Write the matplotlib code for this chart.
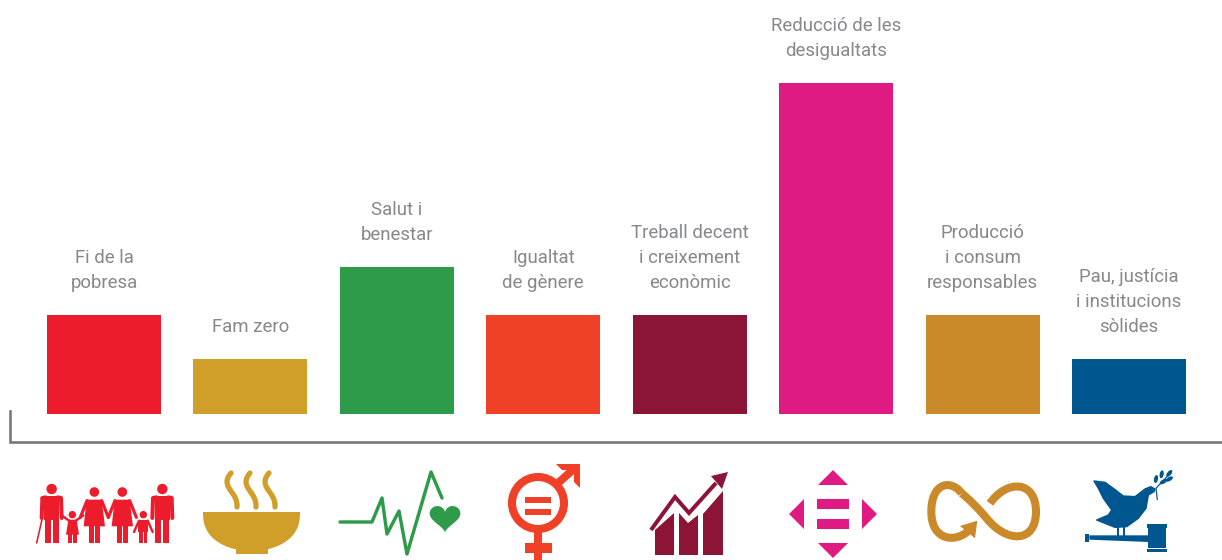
import matplotlib
matplotlib.use("Agg")
import matplotlib.pyplot as plt
import numpy as np
from matplotlib.patches import Circle, Ellipse, PathPatch, Polygon, Rectangle
from matplotlib.path import Path

labels = ["Fi de la\npobresa", "Fam zero", "Salut i\nbenestar", "Igualtat\nde gènere",
          "Treball decent\ni creixement\neconòmic", "Reducció de les\ndesigualtats",
          "Producció\ni consum\nresponsables", "Pau, justícia\ni institucions\nsòlides"]
values = [2.1, 1.17, 3.13, 2.1, 2.1, 7.04, 2.1, 1.17]
colors = ["#ec1c2d", "#cf9f2a", "#2e9b4a", "#f04128", "#8c1537", "#e01a83", "#cb8a2a", "#00568f"]

plt.rcParams["font.family"] = ["Roboto", "DejaVu Sans"]

fig = plt.figure(figsize=(12.22, 5.6), dpi=100)
ax = fig.add_axes([0, 0, 1, 1])
ax.set_xlim(-0.710, 7.635)
ax.set_ylim(-3.106, 8.809)
ax.axis("off")

x = np.arange(len(values))
ax.bar(x, values, width=0.7785, color=colors)
for i, lab in enumerate(labels):
    ax.annotate(lab, (x[i], values[i]), xytext=(0, 16.5), textcoords="offset points",
                ha="center", va="bottom", fontsize=13.4, fontweight="normal",
                color="#87888b", linespacing=1.5)

# overlay in pixels for the axis bracket and the icons
ov = fig.add_axes([0, 0, 1, 1])
ov.set_xlim(0, 1222)
ov.set_ylim(560, 0)
ov.axis("off")
ov.patch.set_alpha(0)

ov.plot([9.5, 9.5, 1222], [411, 442, 442], color="#77787b", lw=1.9, solid_joinstyle="miter")


def line(pts, col, w, cap="butt", join="miter"):
    pts = np.array(pts)
    ov.plot(pts[:, 0], pts[:, 1], color=col, lw=w * 0.72, solid_capstyle=cap, solid_joinstyle=join)


def poly(pts, col, edge=0):
    ov.add_patch(Polygon(pts, fc=col, ec=col, lw=edge, joinstyle="round"))


def box(x0, y0, x1, y1, col):
    ov.add_patch(Rectangle((x0, y0), x1 - x0, y1 - y0, color=col, lw=0))


def f(px, py):
    return (30 + px / 3, 478 + py / 3)


c = colors[0]
for hx in (65, 397):
    ov.add_patch(Circle(f(hx, 33), 5.2, color=c, lw=0))
    poly([f(hx - 22, 55), f(hx + 22, 55), f(hx + 22, 125), f(hx - 22, 125)], c)
    box(*f(hx - 21, 120), *f(hx - 3, 195), c)
    box(*f(hx + 3, 120), *f(hx + 21, 195), c)
    line([f(hx - 28, 62), f(hx - 30, 120)], c, 4, "round", "round")
    line([f(hx + 28, 62), f(hx + 30, 120)], c, 4, "round", "round")
    line([f(hx - 28, 60), f(hx - 18, 58)], c, 4, "round")
    line([f(hx + 28, 60), f(hx + 18, 58)], c, 4, "round")
for hx in (193, 277):
    ov.add_patch(Circle(f(hx, 42), 4.8, color=c, lw=0))
    poly([f(hx - 23, 65), f(hx + 22, 65), f(hx + 32, 145), f(hx - 32, 145)], c)
    box(*f(hx - 15, 140), *f(hx - 1, 195), c)
    box(*f(hx + 2, 140), *f(hx + 17, 195), c)
    line([f(hx - 22, 68), f(hx - 42, 118)], c, 3.2, "round")
    line([f(hx + 22, 68), f(hx + 42, 118)], c, 3.2, "round")
ov.add_patch(Circle(f(127, 110), 3.7, color=c, lw=0))
poly([f(115, 125), f(140, 125), f(147, 170), f(108, 170)], c)
box(*f(115, 165), *f(125, 195), c)
box(*f(130, 165), *f(140, 195), c)
line([f(117, 128), f(95, 112)], c, 2.4, "round")
line([f(138, 128), f(160, 112)], c, 2.4, "round")
ov.add_patch(Circle(f(340, 110), 3.7, color=c, lw=0))
box(*f(325, 125), *f(355, 162), c)
box(*f(328, 160), *f(338, 195), c)
box(*f(342, 160), *f(352, 195), c)
line([f(327, 128), f(312, 162)], c, 2.4, "round")
line([f(353, 128), f(368, 162)], c, 2.4, "round")
line([f(20, 195), f(37, 120)], c, 1.6, "round")

# 2 bowl
c = colors[1]
th = np.linspace(0, np.pi, 60)
poly(np.c_[251.5 + 48.5 * np.cos(th), 512 + 39 * np.sin(th) ** 0.8], c)
box(236, 545, 268, 553.5, c)
for sx in (232, 251, 270):
    verts = [(sx - 1, 473), (sx - 9, 482), (sx - 3, 488), (sx + 1, 494), (sx + 5, 500), (sx + 5, 503), (sx + 5, 507)]
    ov.add_patch(PathPatch(Path(verts, [Path.MOVETO] + [Path.CURVE4] * 6), fc="none", ec=c, lw=3.8, capstyle="round"))

# 3 pulse and heart
c = colors[2]
line([(340, 522), (372, 522), (382, 498), (387, 534), (399, 511), (407, 554), (431, 472), (442, 498)],
     c, 3.4, "round", "round")
t = np.linspace(0, 2 * np.pi, 100)
hx = 16 * np.sin(t) ** 3
hy = 13 * np.cos(t) - 5 * np.cos(2 * t) - 2 * np.cos(3 * t) - np.cos(4 * t)
poly(np.c_[445 + hx * 0.96, 517 - hy * 0.92], c)

# 4 gender
c = colors[3]
ov.add_patch(Circle((538, 503), 26, fc="none", ec=c, lw=5.8))
box(525, 497, 551, 503, c)
box(525, 509, 551, 515, c)
box(534, 531, 542, 560, c)
box(525, 543, 552, 552.5, c)
poly([(556, 464), (580, 464), (580, 488), (574, 482), (574, 470), (562, 470)], c)
line([(557, 484), (576, 467)], c, 8)

# 5 growth
c = colors[4]
poly([(655, 555), (655, 530), (674, 513), (674, 555)], c)
poly([(679, 555), (679, 513), (688, 523), (698, 515), (698, 555)], c)
poly([(703, 555), (703, 514), (723, 491), (723, 555)], c)
line([(651, 530), (675, 497), (689, 513), (716, 483)], c, 4)
poly([(728, 472), (711, 476), (722, 489)], c)

# 6 reduce inequality
c = colors[5]
poly([(833, 470), (818, 485), (848, 485)], c)
poly([(833, 558), (818, 543), (848, 543)], c)
poly([(862, 499), (862, 529), (877, 514)], c)
poly([(804, 499), (804, 529), (789, 514)], c)
box(817, 499, 849, 509, c)
box(817, 519, 849, 529, c)


# 7 infinity
def z(px, py):
    return (820 + px / 3, 440 + py / 3)


c = colors[6]
left = [z(425, 160), z(395, 118), z(334, 125), z(334, 215), z(334, 305), z(410, 310), z(450, 268)]
right = [z(510, 190), z(560, 118), z(648, 120), z(648, 215), z(648, 310), z(560, 310), z(500, 235),
         z(470, 200), z(450, 180), z(425, 160)]
ov.add_patch(PathPatch(Path(left, [Path.MOVETO] + [Path.CURVE4] * 6), fc="none", ec=c, lw=5.8))
ov.add_patch(PathPatch(Path(right, [Path.MOVETO] + [Path.CURVE4] * 9), fc="none", ec=c, lw=5.8))
poly([z(420, 258), z(472, 242), z(465, 295)], c)


# 8 dove and gavel
def d(px, py):
    return (1080 + px / 3, 465 + py / 3)


c = colors[7]
dove = [(42, 48), (75, 52), (100, 70), (130, 93), (165, 95), (195, 72), (212, 65), (225, 72), (222, 80), (205, 90),
        (198, 130), (175, 160), (140, 185), (105, 187), (50, 165), (85, 150), (95, 135), (70, 100), (55, 70)]
poly([d(*p) for p in dove], c, edge=1)
box(*d(112, 180), *d(118, 212), c)
box(*d(128, 180), *d(134, 212), c)
box(*d(15, 207), *d(28, 230), c)
poly([d(28, 211), d(205, 211), d(205, 231), d(28, 224)], c)
box(*d(205, 190), *d(258, 250), c)
box(*d(200, 178), *d(260, 188), c)
box(*d(200, 252), *d(260, 262), c)
line([d(232, 105), d(228, 70), d(270, 25)], c, 1.2)
for lx, ly, ang in [(228, 42, 10), (245, 28, 10), (268, 25, 40), (250, 50, 60), (268, 42, 60)]:
    ov.add_patch(Ellipse(d(lx, ly), 4, 8, angle=ang, color=c, lw=0))

plt.savefig("out.png", dpi=100)
